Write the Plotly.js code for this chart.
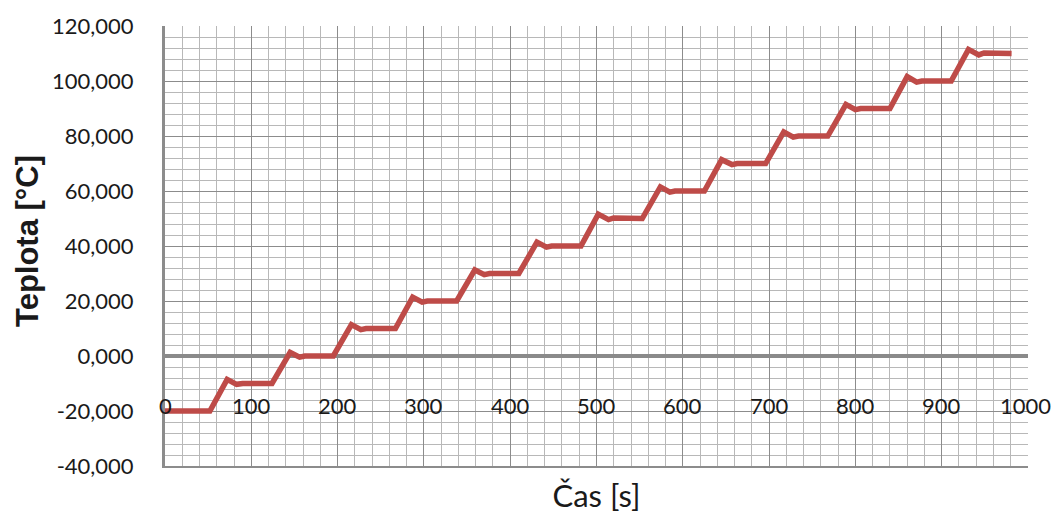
<!DOCTYPE html>
<html>
<head>
<meta charset="utf-8">
<script src="https://cdn.plot.ly/plotly-3.0.1.min.js"></script>
<style>
  html, body { margin: 0; padding: 0; background: #ffffff; }
  #chart { width: 1053px; height: 516px; }
</style>
</head>
<body>
<div id="chart"></div>
<script>
// Time samples [s] of the stepped temperature profile
const timeS = [
  0, 52,
  72, 78, 83, 90, 124,
  145, 151, 156, 162, 195,
  216, 222, 227, 233, 267,
  287, 293, 298, 304, 338,
  359, 365, 370, 376, 410,
  431, 437, 442, 448, 482,
  502, 508, 514, 520, 553,
  574, 580, 585, 591, 625,
  645, 651, 657, 663, 696,
  717, 723, 728, 734, 768,
  789, 795, 800, 806, 840,
  860, 866, 871, 877, 911,
  931, 937, 943, 949, 981
];

// Measured temperature [°C] at each time sample
const teplota = [
  -20, -20,
  -8.5, -9.6, -10.3, -10, -10,
  1.3, 0.2, -0.4, 0, 0,
  11.4, 10.2, 9.6, 10, 10,
  21.4, 20.3, 19.6, 20, 20,
  31.3, 30.2, 29.6, 30, 30,
  41.4, 40.2, 39.6, 40, 40,
  51.6, 50.3, 49.6, 50.2, 50,
  61.5, 60.3, 59.6, 60, 60,
  71.4, 70.3, 69.6, 70, 70,
  81.5, 80.3, 79.6, 80, 80,
  91.5, 90.3, 89.6, 90, 90,
  101.6, 100.3, 99.6, 100, 100,
  111.5, 110.3, 109.5, 110.2, 110
];

// Axis tick values and their labels
const yTickVals = [-40, -20, 0, 20, 40, 60, 80, 100, 120];
const yTickText = ['-40,000', '-20,000', '0,000', '20,000', '40,000', '60,000', '80,000', '100,000', '120,000'];
const xTickVals = [0, 100, 200, 300, 400, 500, 600, 700, 800, 900, 1000];
const xTickText = ['0', '100', '200', '300', '400', '500', '600', '700', '800', '900', '1000'];
const xLabelRow = -20;   // the time labels sit on the -20 °C gridline
const yTitle = 'Teplota [°C]';
const xTitle = 'Čas [s]';

const labelFont = 'Lato, "Open Sans", sans-serif';
const textColor = '#1a1a1a';

const trace = {
  x: timeS,
  y: teplota,
  type: 'scatter',
  mode: 'lines',
  line: { color: '#BE4B48', width: 5.5, shape: 'linear' },
  hoverinfo: 'x+y'
};

const timeLabels = xTickVals.map((v, i) => ({
  x: v,
  y: xLabelRow,
  xref: 'x',
  yref: 'y',
  text: xTickText[i],
  showarrow: false,
  xanchor: 'center',
  yanchor: 'middle',
  yshift: 6,
  xshift: i === xTickVals.length - 1 ? -3 : 0,
  font: { family: labelFont, size: 22, color: textColor }
}));

// Vertical value-axis title, set beside the tick labels
const yTitleNote = {
  x: 0, y: 0.5,
  xref: 'paper', yref: 'paper',
  xanchor: 'center', yanchor: 'middle',
  xshift: -138, yshift: 5,
  textangle: -90,
  showarrow: false,
  text: '<b>' + yTitle + '</b>',
  font: { family: '"Liberation Sans", Arial, sans-serif', size: 31, color: textColor }
};

const layout = {
  width: 1053,
  height: 516,
  margin: { l: 165, r: 25, t: 26, b: 50 },
  paper_bgcolor: '#ffffff',
  plot_bgcolor: '#ffffff',
  showlegend: false,
  xaxis: {
    range: [0, 1000],
    tickvals: xTickVals,
    showticklabels: false,
    ticks: '',
    showgrid: true,
    gridcolor: '#8c8c8c',
    gridwidth: 1,
    minor: { dtick: 20, showgrid: true, gridcolor: '#b8b8b8', gridwidth: 1 },
    zeroline: false,
    showline: true,
    linecolor: '#8c8c8c',
    linewidth: 2,
    title: {
      text: xTitle,
      standoff: 18,
      font: { family: labelFont, size: 31, color: textColor }
    }
  },
  yaxis: {
    range: [-40, 120],
    tickvals: yTickVals,
    ticktext: yTickText,
    ticks: '',
    ticklabelstandoff: 24,
    tickfont: { family: labelFont, size: 22, color: textColor },
    showgrid: true,
    gridcolor: '#8c8c8c',
    gridwidth: 1,
    minor: { dtick: 4, showgrid: true, gridcolor: '#b8b8b8', gridwidth: 1 },
    zeroline: true,
    zerolinecolor: '#8a8a8a',
    zerolinewidth: 4,
    showline: true,
    linecolor: '#8c8c8c',
    linewidth: 3
  },
  annotations: timeLabels.concat([yTitleNote])
};

Plotly.newPlot('chart', [trace], layout, { staticPlot: true, displayModeBar: false });
</script>
</body>
</html>
